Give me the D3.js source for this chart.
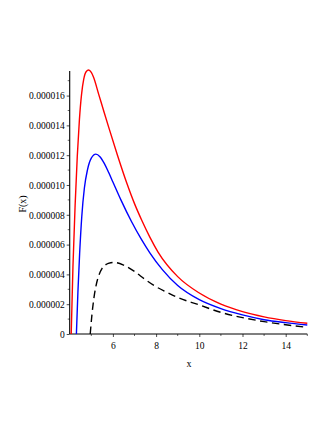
<!DOCTYPE html>
<html>
<head>
<meta charset="utf-8">
<script src="https://cdn.jsdelivr.net/npm/d3@7"></script>
<style>
body { margin: 0; background: #fff; }
svg { display: block; }
.tick text { font-family: "Liberation Serif", "Times New Roman", serif; font-size: 9.5px; fill: #000; }
</style>
</head>
<body>
<svg width="332" height="430"></svg>
<script>
// values, y in units of 1e-6
var xRed  = [4.07, 4.15, 4.25, 4.35, 4.45, 4.55, 4.65, 4.76, 4.88, 5.0, 5.1, 5.34, 5.6, 5.8, 6.2, 6.65, 7.0, 7.33, 7.71, 8.09, 9, 10, 11, 12, 13, 14, 15];
var yRed  = [0, 4.5, 8.6, 11.9, 14.4, 16.1, 17.1, 17.6, 17.72, 17.55, 17.25, 16.1, 14.85, 13.9, 12.05, 10.1, 8.75, 7.65, 6.5, 5.5, 3.85, 2.75, 2.0, 1.5, 1.15, 0.9, 0.72];

var xBlue = [4.31, 4.38, 4.46, 4.56, 4.68, 4.82, 5.0, 5.21, 5.4, 5.6, 5.8, 6.0, 6.37, 6.86, 7.3, 7.71, 8.3, 9, 10, 11, 12, 13, 14, 15];
var yBlue = [0, 2.8, 5.4, 7.9, 9.8, 11.0, 11.8, 12.07, 11.9, 11.45, 10.85, 10.2, 9.0, 7.55, 6.4, 5.45, 4.3, 3.25, 2.3, 1.7, 1.28, 0.96, 0.76, 0.6];

var xDash = [4.95, 5.03, 5.12, 5.22, 5.34, 5.5, 5.7, 5.9, 6.06, 6.5, 7.0, 7.5, 7.94, 8.5, 9, 10, 11, 12, 13, 14, 15];
var yDash = [0, 1.3, 2.4, 3.25, 3.9, 4.4, 4.68, 4.78, 4.8, 4.62, 4.2, 3.65, 3.22, 2.8, 2.45, 1.95, 1.45, 1.1, 0.83, 0.62, 0.45];

var xTicks = [6, 8, 10, 12, 14];
var yTicks = [0, 0.000002, 0.000004, 0.000006, 0.000008, 0.00001, 0.000012, 0.000014, 0.000016];
var yTickLabels = ["0", "0.000002", "0.000004", "0.000006", "0.000008", "0.000010", "0.000012", "0.000014", "0.000016"];

var svg = d3.select('svg');

var x = d3.scaleLinear().domain([4, 15]).range([69.7, 307.3]);
var y = d3.scaleLinear().domain([0, 0.00001765]).range([334, 71]);

var toPts = function(xs, ys) {
  return xs.map(function(d, i) { return [d, ys[i] * 1e-6]; });
};

var line = d3.line()
  .x(function(d) { return x(d[0]); })
  .y(function(d) { return y(d[1]); })
  .curve(d3.curveMonotoneX);

// minor ticks first
var xMinor = d3.range(5, 16, 1).filter(function(d) { return xTicks.indexOf(d) < 0; });
svg.append('g').selectAll('line').data(xMinor).enter().append('line')
  .attr('x1', function(d) { return x(d); })
  .attr('x2', function(d) { return x(d); })
  .attr('y1', 334).attr('y2', 336)
  .attr('stroke', '#000').attr('stroke-width', 0.6);

var yMinor = d3.range(1, 18, 2).map(function(d) { return d * 1e-6; });
svg.append('g').selectAll('line').data(yMinor).enter().append('line')
  .attr('x1', 67.7).attr('x2', 69.7)
  .attr('y1', function(d) { return y(d); })
  .attr('y2', function(d) { return y(d); })
  .attr('stroke', '#000').attr('stroke-width', 0.6);

var xAxis = d3.axisBottom(x).tickValues(xTicks).tickSize(3).tickPadding(5);
var gx = svg.append('g').attr('transform', 'translate(0,334)').call(xAxis);
gx.select('.domain').attr('d', 'M69.7,0H307.3').attr('stroke-width', 1.1);
gx.selectAll('.tick line').attr('stroke-width', 0.7);

var yAxis = d3.axisLeft(y).tickValues(yTicks).tickSize(3).tickPadding(2)
  .tickFormat(function(d, i) { return yTickLabels[i]; });
var gy = svg.append('g').attr('transform', 'translate(69.7,0)').call(yAxis);
gy.select('.domain').attr('d', 'M0,334V71').attr('stroke-width', 1.1);
gy.selectAll('.tick line').attr('stroke-width', 0.7);
gy.selectAll('.tick text').attr('dy', '0.35em');

svg.append('path').datum(toPts(xRed, yRed))
  .attr('d', line).attr('fill', 'none')
  .attr('stroke', '#ff0000').attr('stroke-width', 1.4);

svg.append('path').datum(toPts(xBlue, yBlue))
  .attr('d', line).attr('fill', 'none')
  .attr('stroke', '#0000ff').attr('stroke-width', 1.4);

svg.append('path').datum(toPts(xDash, yDash))
  .attr('d', line).attr('fill', 'none')
  .attr('stroke', '#000').attr('stroke-width', 1.4)
  .attr('stroke-dasharray', '7.5,4.5');

svg.append('text')
  .attr('x', 189).attr('y', 367)
  .attr('text-anchor', 'middle')
  .attr('font-family', '"Liberation Serif", serif')
  .attr('font-size', '10px')
  .text('x');

svg.append('text')
  .attr('transform', 'translate(25.5,204) rotate(-90)')
  .attr('text-anchor', 'middle')
  .attr('font-family', '"Liberation Serif", serif')
  .attr('font-size', '10px')
  .text('F(x)');
</script>
</body>
</html>
